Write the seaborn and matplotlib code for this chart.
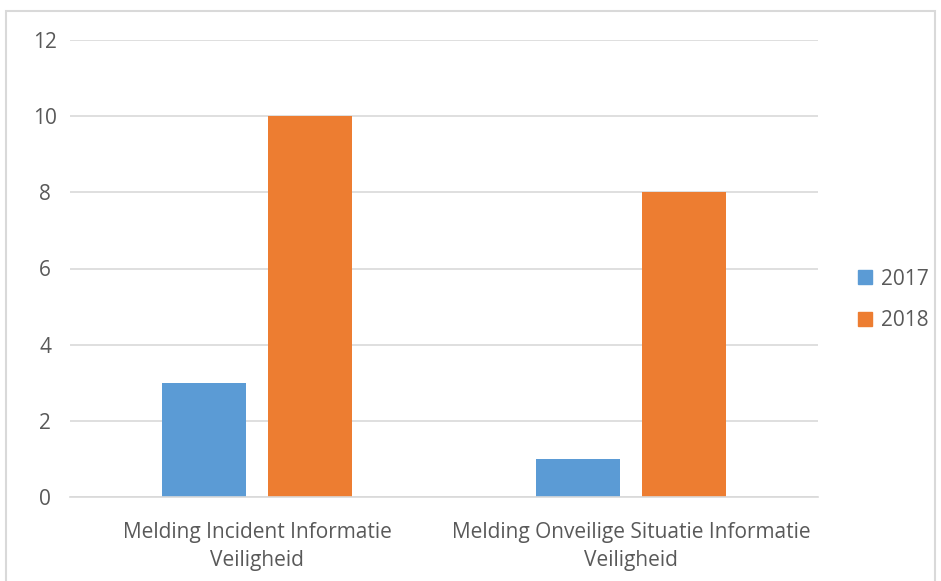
import matplotlib
matplotlib.use("Agg")
import matplotlib.pyplot as plt
import seaborn as sns
import pandas as pd
from matplotlib.patches import Rectangle
from matplotlib.lines import Line2D

categories = ["Melding Incident Informatie\nVeiligheid",
              "Melding Onveilige Situatie Informatie\nVeiligheid"]
years = ["2017", "2018"]
values_2017 = [3, 1]
values_2018 = [10, 8]
yticks = [0, 2, 4, 6, 8, 10, 12]

colors = {"2017": "#5B9BD5", "2018": "#ED7D31"}

df = pd.DataFrame({
    "cat": categories * 2,
    "year": ["2017"] * 2 + ["2018"] * 2,
    "val": values_2017 + values_2018,
})

sns.set_theme(style="white")
plt.rcParams['font.family'] = ['Open Sans', 'DejaVu Sans']
text_color = "#595959"
fs = 15

W, H = 941, 581
fig = plt.figure(figsize=(W / 100, H / 100), dpi=100)
ax = fig.add_axes([70 / W, 1 - 497 / H, (818 - 70) / W, (497 - 40) / H])

sns.barplot(data=df, x="cat", y="val", hue="year", palette=colors,
            width=0.568, gap=0.208, ax=ax, legend=False, saturation=1,
            linewidth=0)

ax.set_xlim(-0.5, 1.5)
ax.set_ylim(0, 12)
ax.set_yticks(yticks)
ax.set_yticklabels([str(t) for t in yticks], fontsize=fs, color=text_color)
ax.tick_params(axis="x", labelsize=fs, labelcolor=text_color, length=0, pad=18)
ax.tick_params(axis="y", length=0, pad=18)
for lbl in ax.get_yticklabels():
    lbl.set_horizontalalignment("center")
ax.set_xlabel("")
ax.set_ylabel("")
ax.grid(axis="y", color="#D9D9D9", linewidth=1.2)
ax.set_axisbelow(True)
for s in ["top", "right", "left"]:
    ax.spines[s].set_visible(False)
ax.spines["bottom"].set_color("#D9D9D9")
ax.spines["bottom"].set_linewidth(1.2)
for lbl in ax.get_xticklabels():
    lbl.set_linespacing(1.45)

handles = [Line2D([0], [0], marker="s", linestyle="", markersize=10,
                  markerfacecolor=colors[y], markeredgecolor=colors[y]) for y in years]
fig.legend(handles, years, loc="center left", bbox_to_anchor=(836 / W, 1 - 300 / H),
           frameon=False, fontsize=fs, labelcolor=text_color, handletextpad=0.25,
           labelspacing=1.0, handlelength=1.0)

fig.patches.append(Rectangle((6 / W, -0.05), (935 - 6) / W, 1.05 - 11 / H,
                             transform=fig.transFigure, fill=False,
                             edgecolor="#D9D9D9", linewidth=1.5))

fig.savefig("out.png", dpi=100, facecolor="white")
